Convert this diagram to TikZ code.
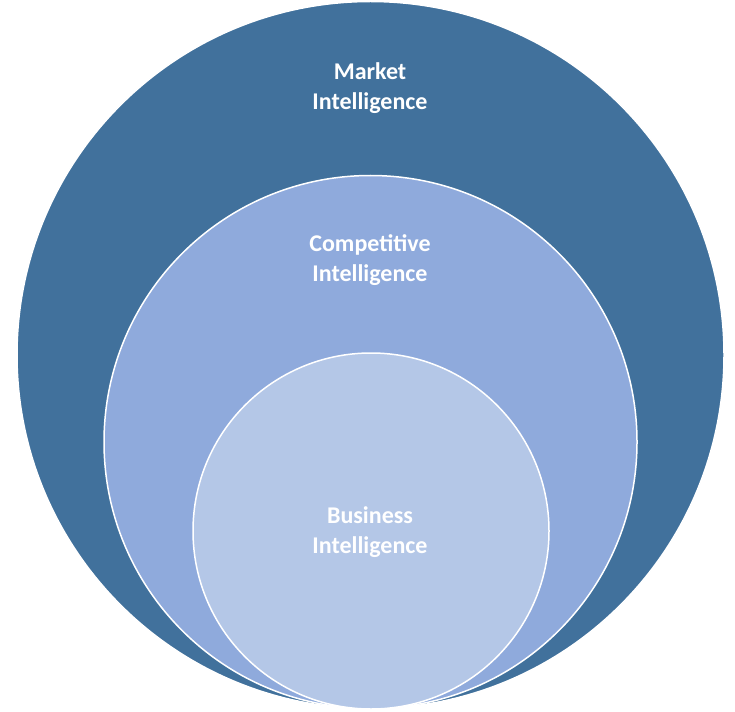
\documentclass[tikz,border=0pt]{standalone}
\usepackage{fontspec}
\setmainfont{Carlito}
\definecolor{outerc}{HTML}{41719C}
\definecolor{midc}{HTML}{8FAADC}
\definecolor{innc}{HTML}{B4C7E7}
\begin{document}
\begin{tikzpicture}[x=1pt,y=-1pt,
  ring/.style={draw=white,line width=1.5pt},
  lbl/.style={text=white,font=\fontsize{24}{30}\selectfont\bfseries,align=center}]
\useasboundingbox (0,0) rectangle (735,711);
\fill[ring,fill=outerc] (370.5,355) circle (353.5);
\fill[ring,fill=midc] (370.5,442) circle (266.5);
\fill[ring,fill=innc] (371,531) circle (178);
\node[lbl] (m) at (370,88) {Market\\Intelligence};
\node[lbl] (c) at (370,260) {Competitive\\Intelligence};
\node[lbl] (b) at (370,532) {Business\\Intelligence};
\end{tikzpicture}
\end{document}
